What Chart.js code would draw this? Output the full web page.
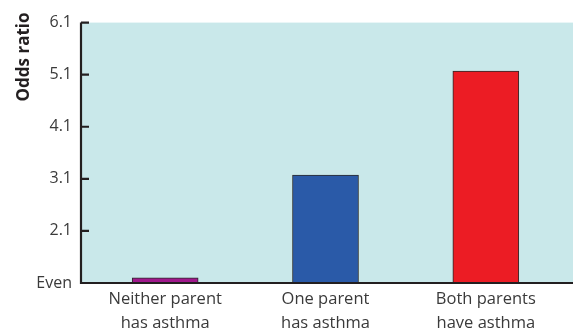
<!DOCTYPE html>
<html>
<head>
<meta charset="utf-8">
<script src="https://cdn.jsdelivr.net/npm/chart.js@4/dist/chart.umd.min.js"></script>
<style>
  html, body { margin: 0; padding: 0; background: #fff; }
  #wrap { width: 573px; height: 329px; }
</style>
</head>
<body>
<div id="wrap"><canvas id="oddsChart" width="573" height="329"></canvas></div>
<script>
const categories = [['Neither parent', 'has asthma'], ['One parent', 'has asthma'], ['Both parents', 'have asthma']];
const oddsValues = [1.2, 3.17, 5.17];
const barColors = ['#a0188c', '#2a5aa8', '#ec1c24'];
const tickValues = [1.1, 2.1, 3.1, 4.1, 5.1, 6.1];
const tickLabels = ['Even', '2.1', '3.1', '4.1', '5.1', '6.1'];

const AXIS_X = 81;
const FONT = '"Open Sans", "Noto Sans", sans-serif';

// panel background, axis lines with inward ticks, rotated title
const frame = {
    id: 'frame',
    beforeDatasetsDraw(chart) {
        const { ctx, chartArea: a } = chart;
        ctx.save();
        ctx.fillStyle = '#c9e8ea';
        ctx.fillRect(AXIS_X, a.top, chart.width - AXIS_X, a.bottom - a.top);
        ctx.restore();
    },
    afterDatasetsDraw(chart) {
        const { ctx, chartArea: a, scales } = chart;
        ctx.save();
        ctx.strokeStyle = '#231f20';
        ctx.lineWidth = 2.2;
        ctx.beginPath();
        ctx.moveTo(AXIS_X, a.top);
        ctx.lineTo(AXIS_X, a.bottom);
        ctx.lineTo(chart.width, a.bottom);
        tickValues.forEach(v => {
            const y = scales.y.getPixelForValue(v);
            ctx.moveTo(AXIS_X, y);
            ctx.lineTo(AXIS_X + 8, y);
        });
        ctx.stroke();

        ctx.translate(24, 57);
        ctx.rotate(-Math.PI / 2);
        ctx.fillStyle = '#231f20';
        ctx.font = 'bold 17px ' + FONT;
        ctx.textAlign = 'center';
        ctx.textBaseline = 'middle';
        ctx.fillText('Odds ratio', 0, 0);
        ctx.restore();
    }
};

new Chart(document.getElementById('oddsChart'), {
    type: 'bar',
    data: {
        labels: categories,
        datasets: [{
            data: oddsValues,
            backgroundColor: barColors,
            borderColor: '#2b2b2b',
            borderWidth: 1,
            borderSkipped: 'bottom',
            barThickness: 66,
            base: 1.1
        }]
    },
    options: {
        responsive: false,
        animation: false,
        layout: { padding: { top: 21, right: 7, left: 0, bottom: 0 } },
        plugins: { legend: { display: false }, tooltip: { enabled: false } },
        scales: {
            x: {
                grid: { display: false, drawTicks: false },
                border: { display: false },
                ticks: {
                    color: '#3a3a3a',
                    font: { family: FONT, size: 16.5, lineHeight: '24px' },
                    padding: 4,
                    maxRotation: 0,
                    autoSkip: false
                },
                afterFit(scale) { scale.height = 46; }
            },
            y: {
                min: 1.1,
                max: 6.1,
                grid: { display: false, drawTicks: false },
                border: { display: false },
                afterBuildTicks(scale) {
                    scale.ticks = tickValues.map(v => ({ value: v }));
                },
                ticks: {
                    color: '#3a3a3a',
                    font: { family: FONT, size: 16 },
                    padding: 13,
                    callback: (v, i) => tickLabels[i]
                },
                afterFit(scale) { scale.width = 85; }
            }
        }
    },
    plugins: [frame]
});
</script>
</body>
</html>
